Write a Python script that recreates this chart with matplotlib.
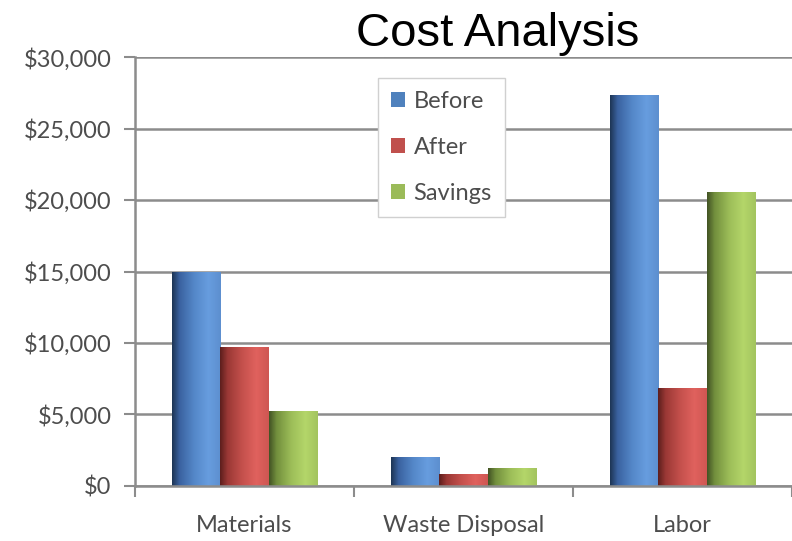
import numpy as np
import matplotlib
matplotlib.use('Agg')
import matplotlib.pyplot as plt
from matplotlib.colors import LinearSegmentedColormap

# ---- data ----
categories = ['Materials', 'Waste Disposal', 'Labor']
series_names = ['Before', 'After', 'Savings']
before = [14900, 2000, 27300]
after = [9700, 800, 6800]
savings = [5200, 1200, 20500]
y_ticks = [0, 5000, 10000, 15000, 20000, 25000, 30000]
title = 'Cost Analysis'

# ---- styles ----
base_colors = ['#4F81BD', '#C0504D', '#9BBB59']
grad_stops = [
    ['#1e3656', '#3a62a0', '#5487c8', '#679ddf', '#5d8fcf'],
    ['#5e1f1d', '#9a3835', '#c4504c', '#e0625e', '#cf5652'],
    ['#435425', '#728f3d', '#9cbd58', '#b4d66a', '#a3c45e'],
]
text_gray = '#4d4d4d'
grid_gray = '#8c8c8c'

fig = plt.figure(figsize=(7.92, 5.41), dpi=100)
ax = fig.add_axes([0.1705, 0.1017, 0.8295, 0.7929])

x = np.arange(len(categories))
bw = 0.22
series = [before, after, savings]
for i, (vals, name) in enumerate(zip(series, series_names)):
    bars = ax.bar(x + (i - 1) * bw, vals, width=bw, color=base_colors[i],
                  label=name, zorder=2, edgecolor='none')
    cmap = LinearSegmentedColormap.from_list(
        f'g{i}', list(zip([0, 0.15, 0.45, 0.75, 1.0], grad_stops[i])))
    grad = np.linspace(0, 1, 64).reshape(1, -1)
    for p in bars.patches:
        x0, y0 = p.get_xy()
        ax.imshow(grad, extent=(x0, x0 + p.get_width(), y0, y0 + p.get_height()),
                  aspect='auto', cmap=cmap, zorder=2.1, interpolation='bilinear')

ax.set_xlim(-0.5, 2.5)
ax.set_ylim(0, 30000)
ax.set_yticks(y_ticks)
ax.set_yticklabels(['${:,}'.format(v) for v in y_ticks])
ax.set_xticks([-0.5, 0.5, 1.5, 2.5])
ax.set_xticklabels([])
ax.set_xticks(x, minor=True)
ax.set_xticklabels(categories, minor=True)
ax.tick_params(axis='x', which='minor', length=0, pad=21)
ax.tick_params(axis='x', which='major', length=8, width=1.5, color=grid_gray)
ax.tick_params(axis='y', length=8, width=1.5, color=grid_gray, pad=9)

for lab in ax.get_yticklabels() + ax.get_xticklabels(minor=True):
    lab.set_fontfamily('Lato')
    lab.set_fontsize(17)
    lab.set_color(text_gray)

ax.yaxis.grid(True, color=grid_gray, linewidth=1.8, zorder=0)
ax.set_axisbelow(True)
for s in ['top', 'right']:
    ax.spines[s].set_visible(False)
for s in ['left', 'bottom']:
    ax.spines[s].set_color(grid_gray)
    ax.spines[s].set_linewidth(1.8)

leg = ax.legend(loc='upper left', bbox_to_anchor=(0.37, 0.951), borderaxespad=0,
                prop=dict(family='Lato', size=17), labelcolor=text_gray,
                fancybox=False, framealpha=1, edgecolor='#d0d0d0',
                handlelength=0.6, handleheight=0.6, handletextpad=0.35,
                labelspacing=1.05, borderpad=0.55)
leg.get_frame().set_linewidth(1.0)

fig.text(0.629, 0.915, title, family='Liberation Sans', size=34, color='black',
         ha='center', va='baseline')

fig.savefig('out.png', dpi=100)
